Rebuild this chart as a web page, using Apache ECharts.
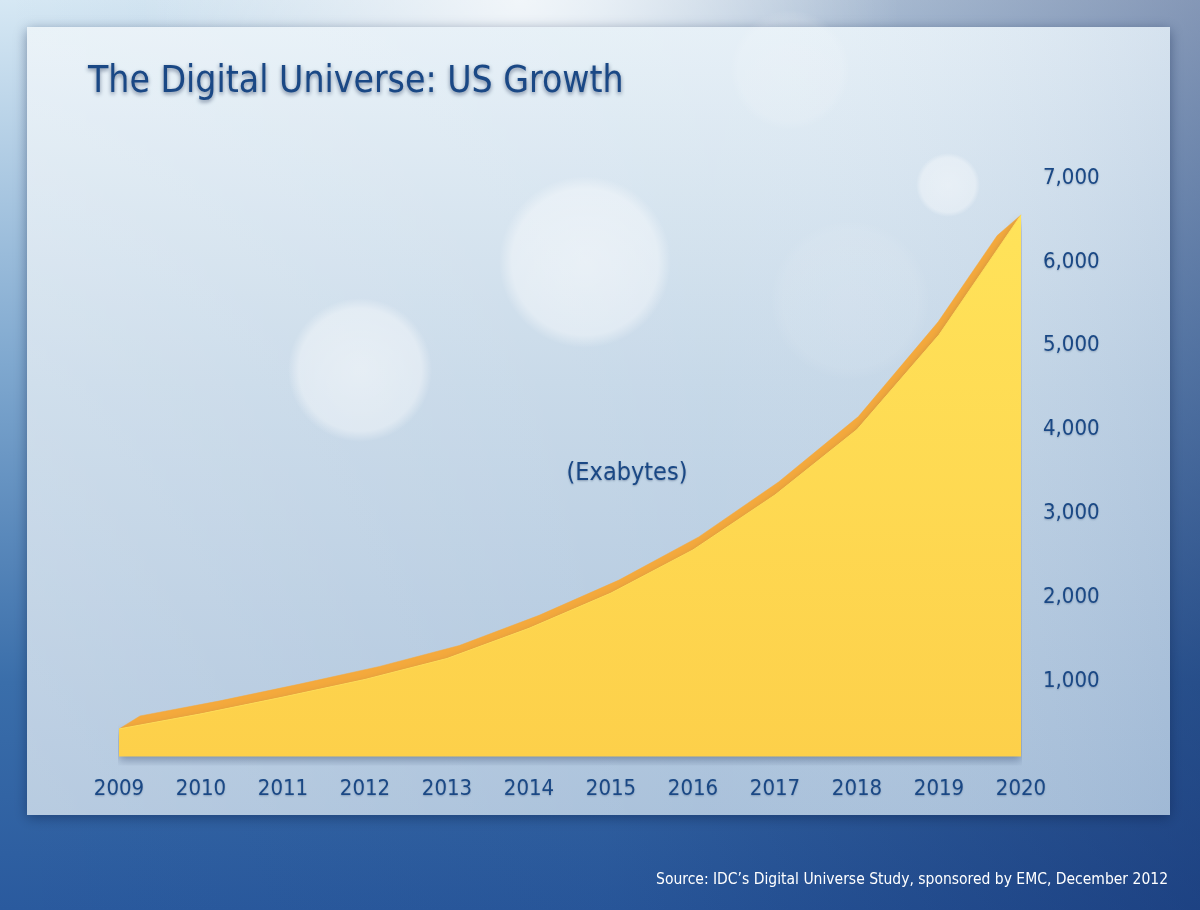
<!DOCTYPE html>
<html>
<head>
<meta charset="utf-8">
<title>The Digital Universe: US Growth</title>
<script src="https://cdn.jsdelivr.net/npm/echarts@6/dist/echarts.min.js"></script>
<style>
html, body { margin: 0; padding: 0; }
#chart { width: 1200px; height: 910px; }
</style>
</head>
<body>
<div id="chart"></div>
<script>
// data
var years = ['2009', '2010', '2011', '2012', '2013', '2014', '2015', '2016', '2017', '2018', '2019', '2020'];
var exabytes = [430, 610, 810, 1020, 1270, 1630, 2050, 2565, 3220, 4000, 5130, 6560];
var yMin = 0, yMax = 7000, yStep = 1000;

var titleText = 'The Digital Universe: US Growth';
var unitText = '(Exabytes)';
var sourceText = 'Source: IDC\u2019s Digital Universe Study, sponsored by EMC, December 2012';

var FONT = "'Liberation Sans Narrow', 'DejaVu Sans Condensed', 'Roboto', sans-serif";
var BLUE = '#1a4885';

// depth offset of the orange top face (px), leans right at the left end, upright at the right
function depth(t) {
    return [21 - 24 * t, -13];
}

function bokeh(cx, cy, r, a) {
    return {
        type: 'circle', z: -26, silent: true, shape: { cx: cx, cy: cy, r: r },
        style: {
            fill: new echarts.graphic.RadialGradient(0.5, 0.5, 0.5, [
                { offset: 0, color: 'rgba(255,255,255,' + a + ')' },
                { offset: 0.85, color: 'rgba(255,255,255,' + (a * 0.8) + ')' },
                { offset: 1, color: 'rgba(255,255,255,0)' }
            ])
        }
    };
}

var chart = echarts.init(document.getElementById('chart'));

var option = {
    animation: false,
    grid: { left: 119, right: 179, top: 178, bottom: 145 },
    graphic: [
        {
            type: 'rect', z: -30, silent: true,
            shape: { x: 0, y: 0, width: 1200, height: 910 },
            style: {
                fill: new echarts.graphic.LinearGradient(0, 0, 0, 1, [
                    { offset: 0, color: '#d6e8f4' },
                    { offset: 0.4, color: '#7fa8cf' },
                    { offset: 0.75, color: '#3a6eaa' },
                    { offset: 1, color: '#2a5a9e' }
                ])
            }
        },
        {
            type: 'rect', z: -29, silent: true,
            shape: { x: 0, y: 0, width: 1200, height: 910 },
            style: {
                fill: new echarts.graphic.LinearGradient(0, 0, 1, 0, [
                    { offset: 0, color: 'rgba(10,30,90,0)' },
                    { offset: 0.5, color: 'rgba(10,30,90,0.08)' },
                    { offset: 1, color: 'rgba(10,30,90,0.4)' }
                ])
            }
        },
        {
            type: 'circle', z: -29, silent: true,
            shape: { cx: 520, cy: 0, r: 380 },
            style: {
                fill: new echarts.graphic.RadialGradient(0.5, 0.5, 0.5, [
                    { offset: 0, color: 'rgba(255,255,255,0.75)' },
                    { offset: 1, color: 'rgba(255,255,255,0)' }
                ])
            }
        },
        {
            type: 'rect', z: -28, silent: true,
            shape: { x: 27, y: 27, width: 1143, height: 788 },
            style: {
                fill: new echarts.graphic.LinearGradient(0, 0, 0, 1, [
                    { offset: 0, color: '#e6f0f7' },
                    { offset: 0.45, color: '#c6d8e8' },
                    { offset: 1, color: '#a8c0da' }
                ]),
                shadowBlur: 12,
                shadowColor: 'rgba(10,30,70,0.45)',
                shadowOffsetY: 3
            }
        },
        {
            type: 'rect', z: -27, silent: true,
            shape: { x: 27, y: 27, width: 1143, height: 788 },
            style: {
                fill: new echarts.graphic.LinearGradient(0, 0, 1, 0, [
                    { offset: 0, color: 'rgba(255,255,255,0.18)' },
                    { offset: 0.6, color: 'rgba(255,255,255,0.02)' },
                    { offset: 1, color: 'rgba(110,140,185,0.14)' }
                ])
            }
        },
        bokeh(585, 262, 86, 0.5),
        bokeh(360, 370, 72, 0.5),
        bokeh(948, 185, 32, 0.45),
        bokeh(850, 300, 80, 0.1),
        bokeh(790, 70, 60, 0.15),
        // texts
        {
            type: 'text', z: 20, silent: true, left: 88, top: 64,
            style: {
                text: titleText, fill: BLUE, font: 'normal 37px ' + FONT,
                textShadowColor: 'rgba(0,20,60,0.5)', textShadowBlur: 4, textShadowOffsetY: 2
            }
        },
        {
            type: 'text', z: 20, silent: true, x: 627, y: 473,
            style: {
                text: unitText, fill: BLUE, font: 'normal 25px ' + FONT,
                align: 'center', verticalAlign: 'middle',
                textShadowColor: 'rgba(0,20,60,0.3)', textShadowBlur: 2, textShadowOffsetY: 1
            }
        },
        {
            type: 'text', z: 20, silent: true, x: 1168, y: 880,
            style: {
                text: sourceText, fill: '#ffffff', font: 'normal 15.5px ' + FONT,
                align: 'right', verticalAlign: 'middle'
            }
        }
    ],
    xAxis: {
        type: 'category',
        boundaryGap: false,
        data: years,
        axisLine: { show: false },
        axisTick: { show: false },
        axisLabel: {
            color: BLUE, fontSize: 22, fontFamily: FONT, margin: 13,
            textShadowColor: 'rgba(0,20,60,0.25)', textShadowBlur: 2, textShadowOffsetY: 1
        }
    },
    yAxis: {
        type: 'value',
        position: 'right',
        min: yMin, max: yMax, interval: yStep,
        splitLine: { show: false },
        axisLine: { show: false },
        axisTick: { show: false },
        axisLabel: {
            color: BLUE, fontSize: 22, fontFamily: FONT, margin: 22,
            textShadowColor: 'rgba(0,20,60,0.25)', textShadowBlur: 2, textShadowOffsetY: 1,
            formatter: function (v) { return v === 0 ? '' : v.toLocaleString('en-US'); }
        }
    },
    series: [
        {
            // orange top face of the 3D ribbon
            type: 'custom',
            z: 2,
            silent: true,
            data: [[0, exabytes[0]]],
            renderItem: function (params, api) {
                var n = exabytes.length - 1;
                var front = [], back = [];
                for (var i = 0; i <= n; i++) {
                    var p = api.coord([i, exabytes[i]]);
                    front.push(p);
                    var d = depth(i / n);
                    back.push([p[0] + d[0], p[1] + d[1]]);
                }
                // last segment: back edge runs into the front corner
                var a = front[n - 1], b = front[n], a2 = back[n - 1];
                var tip = [a2[0] + (b[0] - a[0]) * 0.72, a2[1] + (b[1] - a[1]) * 0.72];
                var pts = front.slice();
                pts.push(tip);
                for (var j = n - 1; j >= 0; j--) pts.push(back[j]);
                return {
                    type: 'polygon',
                    shape: { points: pts },
                    style: { fill: '#f4a93c', stroke: '#f4a93c', lineWidth: 0.5 }
                };
            }
        },
        {
            type: 'line',
            z: 3,
            data: exabytes,
            symbol: 'none',
            silent: true,
            lineStyle: { color: '#ffdc55', width: 1 },
            areaStyle: {
                origin: 100,
                opacity: 1,
                color: new echarts.graphic.LinearGradient(0, 0, 0, 1, [
                    { offset: 0, color: '#ffe35a' },
                    { offset: 1, color: '#fdd04a' }
                ]),
                shadowBlur: 8,
                shadowColor: 'rgba(20,40,80,0.35)',
                shadowOffsetY: 4
            }
        }
    ]
};

chart.setOption(option);
</script>
</body>
</html>
